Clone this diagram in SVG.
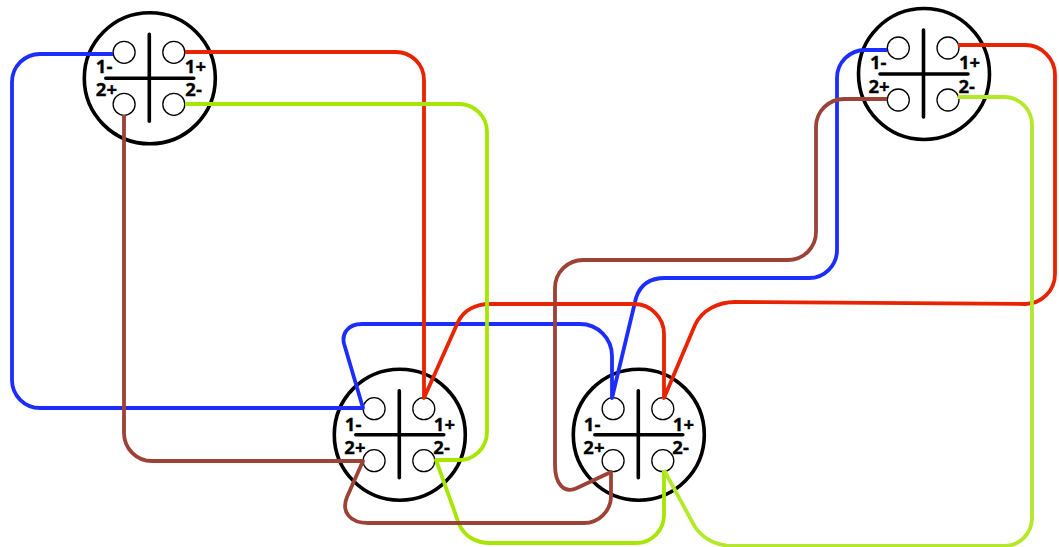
<svg xmlns="http://www.w3.org/2000/svg" width="1059" height="547" viewBox="0 0 1059 547">
<style>
.w{fill:none;stroke-width:3.8;stroke-linejoin:round;stroke-linecap:butt}
.blue{stroke:#1b2dff}.red{stroke:#e82300}.green{stroke:#a6e600}.lime{stroke:#b4e82a}.brown{stroke:#9c4236}
.body{fill:#fff;stroke:#000;stroke-width:3.6}
.pin{fill:#fff;stroke:#000;stroke-width:1.3}
.bar{stroke:#000;stroke-width:3.6;fill:none;stroke-linecap:round}
.lb{font-family:"Open Sans","Liberation Sans",sans-serif;font-weight:700;font-size:18.5px;fill:#000;stroke:#000;stroke-width:.3}
</style>
<defs>
<g id="plate">
<circle class="body" cx="0" cy="0" r="65.5"/>
<path class="bar" d="M-0.5,-44V43M-44,0H44"/>
<circle class="pin" cx="-25.7" cy="-26" r="11"/>
<circle class="pin" cx="24" cy="-26" r="11"/>
<circle class="pin" cx="-25.7" cy="26" r="11"/>
<circle class="pin" cx="24" cy="26" r="11"/>
</g>
</defs>
<g id="node-1" transform="translate(149.8,78.3)">
<use href="#plate"/>
<text class="lb" x="-54" y="-5.5">1-</text><text class="lb" x="35" y="-5.5">1+</text><text class="lb" x="-54" y="17.7">2+</text><text class="lb" x="35.5" y="17.7">2-</text>
</g>
<g id="node-2" transform="translate(399.8,434.7)">
<use href="#plate"/>
<text class="lb" x="-55" y="-4">1-</text><text class="lb" x="34" y="-4">1+</text><text class="lb" x="-55.5" y="19">2+</text><text class="lb" x="33.5" y="19">2-</text>
</g>
<g id="node-3" transform="translate(638.8,434.7)">
<use href="#plate"/>
<text class="lb" x="-55" y="-4">1-</text><text class="lb" x="34" y="-4">1+</text><text class="lb" x="-55.5" y="19">2+</text><text class="lb" x="33.5" y="19">2-</text>
</g>
<g id="node-4" transform="translate(924,74)">
<use href="#plate"/>
<text class="lb" x="-54" y="-5">1-</text><text class="lb" x="35" y="-5">1+</text><text class="lb" x="-55.5" y="18.7">2+</text><text class="lb" x="34.5" y="18.7">2-</text>
</g>
<g id="connectors">
<path class="w blue" d="M113,54H40A28,28 0 0 0 12,82V380A28,28 0 0 0 40,408H363L345,347C340,334 348,324 362,324H580A32,32 0 0 1 612,356V398L636,298C640,285 650,278 665,278H809A28,28 0 0 0 837,250V78A28,28 0 0 1 865,50H887"/>
<path class="w red" d="M185,52H396A28,28 0 0 1 424,80V398L458,322C464,310 476,304 490,304H634A30,30 0 0 1 664,334V398L695,325C702,310 718,302 735,302L1025,304A30,30 0 0 0 1055,274V75A30,30 0 0 0 1025,45H958"/>
<path class="w green" d="M185,104H459A28,28 0 0 1 487,132V432A28,28 0 0 1 459,460H436L459,524C464,536 476,543 490,543H636A28,28 0 0 0 664,515V470"/>
<path class="w lime" d="M664,470L695,527C704,540 718,546 735,546H1004A28,28 0 0 0 1032,518V125A28,28 0 0 0 1004,97H958"/>
<path class="w brown" d="M124,115V433A28,28 0 0 0 152,461H363L347,497C341,512 350,523 368,523H584A27,27 0 0 0 611,496V472L577,488C564,494 555,484 555,465V288A28,28 0 0 1 583,260H788A28,28 0 0 0 816,232V127A28,28 0 0 1 844,99H887"/>
</g>
</svg>
